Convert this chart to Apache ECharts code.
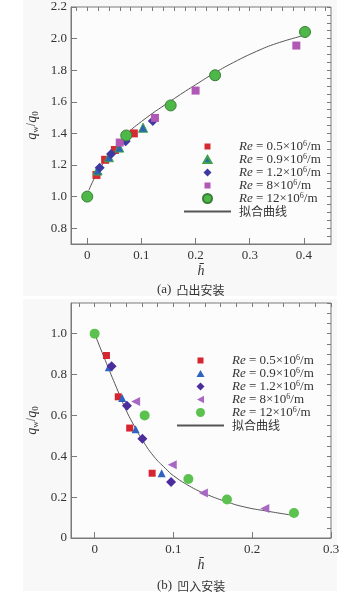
<!DOCTYPE html>
<html>
<head>
<meta charset="utf-8">
<script src="https://cdn.jsdelivr.net/npm/echarts@6/dist/echarts.min.js"></script>
<style>
html, body { margin: 0; padding: 0; background: #fff; }
#chart { width: 353px; height: 599px; }
</style>
</head>
<body>
<div id="chart"></div>
<script>
const serif = '"Liberation Serif", "DejaVu Serif", serif'
const cjk = '"Noto Sans CJK SC", sans-serif'
const axisGray = '#7a7a7a'
const textGray = '#333'

// (a) 凸出安装
const aRe05 = [[0.017, 1.137], [0.033, 1.233], [0.051, 1.295], [0.086, 1.40]]
const aRe09 = [[0.019, 1.165], [0.04, 1.249], [0.059, 1.31], [0.103, 1.436]]
const aRe12 = [[0.023, 1.183], [0.044, 1.27], [0.071, 1.351], [0.121, 1.478]]
const aRe8 = [[0.06, 1.342], [0.125, 1.498], [0.2, 1.671], [0.386, 1.956]]
const aRe120 = [[0, 1.0], [0.072, 1.387], [0.154, 1.577], [0.236, 1.768], [0.402, 2.042]]
const aFit = [[0.003, 1.04], [0.017, 1.14], [0.04, 1.26], [0.07, 1.385], [0.1, 1.475], [0.154, 1.605],
    [0.2, 1.708], [0.236, 1.784], [0.27, 1.849], [0.313, 1.92], [0.35, 1.97], [0.4, 2.02]]
const aXTicks = [0, 0.1, 0.2, 0.3, 0.4]
const aYTicks = [0.8, 1.0, 1.2, 1.4, 1.6, 1.8, 2.0, 2.2]

// (b) 凹入安装
const bRe05 = [[0.015, 0.893], [0.03, 0.691], [0.0445, 0.538], [0.073, 0.317]]
const bRe09 = [[0.018, 0.836], [0.035, 0.685], [0.052, 0.532], [0.085, 0.317]]
const bRe12 = [[0.0216, 0.841], [0.041, 0.647], [0.0606, 0.486], [0.097, 0.274]]
const bRe8 = [[0.052, 0.668], [0.0985, 0.359], [0.138, 0.22], [0.216, 0.144]]
const bRe120 = [[0, 1.0], [0.0635, 0.6], [0.119, 0.289], [0.168, 0.188], [0.253, 0.122]]
const bFit = [[0, 1.0], [0.015, 0.855], [0.03, 0.715], [0.04, 0.625], [0.05, 0.55], [0.06, 0.483],
    [0.075, 0.4], [0.09, 0.34], [0.1, 0.305], [0.12, 0.255], [0.14, 0.217], [0.167, 0.178],
    [0.19, 0.152], [0.218, 0.132], [0.25, 0.112]]
const bXTicks = [0, 0.1, 0.2, 0.3]
const bYTicks = [0, 0.2, 0.4, 0.6, 0.8, 1.0]

const reValues = ['0.5', '0.9', '1.2', '8', '12']
const fitName = '拟合曲线'

const legendText = {}
reValues.forEach((re, i) => {
    const txt = '{sp|}{i|Re} = ' + re + '×10{sup|6}/m'
    legendText['a' + i] = txt
    legendText['b' + i] = txt
})
legendText.aFit = '{sp|}{c|' + fitName + '}'
legendText.bFit = '{sp|}{c|' + fitName + '}'

// legend icons in a 9x9 box, corner points keep the box size
const box = 'path://M0,0L0,0M9,9L9,9'
const icons = {
    square: box + 'M1.5,1.5L7.5,1.5L7.5,7.5L1.5,7.5Z',
    tri: box + 'M4.5,1L8.5,8L0.5,8Z',
    diamond: box + 'M4.5,0.5L8.5,4.5L4.5,8.5L0.5,4.5Z',
    left: box + 'M1,4.5L8,0.8L8,8.2Z',
}

const minorTicks = (lo, hi, step) => {
    const out = []
    for (let v = lo; v <= hi + 1e-9; v += step) out.push(+v.toFixed(3))
    return out
}

const fmt = v => (Math.abs(v) < 1e-9 ? '0' : v.toFixed(1))

const labelStyle = { color: textGray, fontFamily: serif, fontSize: 13 }

const mainX = (gi, min, max, ticks) => ({
    type: 'value', gridIndex: gi, min, max,
    axisLine: { onZero: false, lineStyle: { color: axisGray } },
    axisTick: { inside: true, length: 6, customValues: ticks, lineStyle: { color: axisGray } },
    axisLabel: Object.assign({ customValues: ticks, formatter: fmt, margin: 5 }, labelStyle),
    splitLine: { show: false },
    name: '{i|h\u0304}', nameLocation: 'middle', nameGap: 20,
    nameTextStyle: { rich: { i: { fontFamily: serif, fontStyle: 'italic', fontSize: 14, color: textGray } } },
})

const minorX = (gi, min, max, ticks) => ({
    type: 'value', gridIndex: gi, min, max,
    axisLine: { show: false, onZero: false },
    axisTick: { inside: true, length: 4, customValues: ticks, lineStyle: { color: axisGray } },
    axisLabel: { show: false, customValues: ticks },
    splitLine: { show: false },
})

const mainY = (gi, min, max, ticks) => ({
    type: 'value', gridIndex: gi, min, max,
    axisLine: { onZero: false, lineStyle: { color: axisGray } },
    axisTick: { inside: true, length: 6, customValues: ticks, lineStyle: { color: axisGray } },
    axisLabel: Object.assign({ customValues: ticks, formatter: fmt, margin: 4 }, labelStyle),
    splitLine: { show: false },
    name: '{i|q}{sub|w}/{i|q}{sub|0}', nameLocation: 'middle', nameGap: 28, nameRotate: 90,
    nameTextStyle: {
        rich: {
            i: { fontFamily: serif, fontStyle: 'italic', fontSize: 14, color: textGray, lineHeight: 16 },
            sub: { fontFamily: serif, fontSize: 9, color: textGray, verticalAlign: 'bottom', lineHeight: 16 },
        },
    },
})

const minorY = (gi, min, max, ticks) => ({
    type: 'value', gridIndex: gi, min, max,
    axisLine: { show: false, onZero: false },
    axisTick: { inside: true, length: 4, customValues: ticks, lineStyle: { color: axisGray } },
    axisLabel: { show: false, customValues: ticks },
    splitLine: { show: false },
})

const scatter = (name, data, ai, symbol, size, color, border, rotate) => ({
    name, type: 'scatter', data,
    xAxisIndex: ai, yAxisIndex: ai,
    symbol, symbolSize: size, symbolRotate: rotate || 0,
    itemStyle: { color, borderColor: border || color, borderWidth: border ? 1 : 0, opacity: 1 },
    z: 3,
})

const fitLine = (name, data, ai) => ({
    name, type: 'line', data,
    xAxisIndex: ai, yAxisIndex: ai,
    smooth: true, symbol: 'none',
    lineStyle: { color: '#555', width: 1 },
    itemStyle: { color: '#555' },
    z: 2,
})

const legendBase = {
    orient: 'vertical', padding: 0, itemWidth: 47, itemHeight: 9, itemGap: 0,
    formatter: name => legendText[name],
    selectedMode: false,
    symbolRotate: 0,
    textStyle: {
        color: textGray, fontFamily: serif, fontSize: 13, lineHeight: 13,
        rich: {
            sp: { width: 3 },
            i: { fontFamily: serif, fontStyle: 'italic', fontSize: 13, lineHeight: 13, color: textGray },
            sup: { fontFamily: serif, fontSize: 8, lineHeight: 13, verticalAlign: 'top', color: textGray },
            c: { fontFamily: cjk, fontSize: 12, lineHeight: 13, color: textGray },
        },
    },
}

const captionRich = {
    s: { fontFamily: serif, fontSize: 13, color: textGray, fontWeight: 'normal' },
    c: { fontFamily: cjk, fontSize: 12, color: textGray, fontWeight: 'normal' },
}

const chart = echarts.init(document.getElementById('chart'))

chart.setOption({
    animation: false,
    backgroundColor: '#fff',
    graphic: [
        { type: 'rect', shape: { x: 23, y: 0, width: 314, height: 296 }, style: { fill: '#f8f8f8' }, z: -10 },
        { type: 'rect', shape: { x: 23, y: 299, width: 314, height: 292 }, style: { fill: '#f8f8f8' }, z: -10 },
    ],
    title: [
        { text: '{s|(a)} {c|凸出安装}', left: 157, top: 281, padding: 0, textStyle: { rich: captionRich } },
        { text: '{s|(b)} {c|凹入安装}', left: 157, top: 577, padding: 0, textStyle: { rich: captionRich } },
    ],
    grid: [
        { left: 71, top: 7, width: 260, height: 237, show: true, borderColor: axisGray, borderWidth: 1, backgroundColor: '#fcfcfc' },
        { left: 71, top: 303, width: 260, height: 235, show: true, borderColor: axisGray, borderWidth: 1, backgroundColor: '#fcfcfc' },
    ],
    xAxis: [
        mainX(0, -0.03, 0.45, aXTicks),
        minorX(0, -0.03, 0.45, minorTicks(-0.02, 0.44, 0.02)),
        mainX(1, -0.03, 0.3, bXTicks),
        minorX(1, -0.03, 0.3, minorTicks(-0.02, 0.3, 0.02)),
    ],
    yAxis: [
        mainY(0, 0.7, 2.2, aYTicks),
        minorY(0, 0.7, 2.2, minorTicks(0.7, 2.2, 0.05)),
        mainY(1, 0, 1.15, bYTicks),
        minorY(1, 0, 1.15, minorTicks(0, 1.15, 0.05)),
    ],
    legend: [
        Object.assign({
            left: 183, top: 140,
            data: [
                { name: 'a0', icon: icons.square },
                { name: 'a1', icon: icons.tri },
                { name: 'a2', icon: icons.diamond },
                { name: 'a3', icon: icons.square },
                { name: 'a4', icon: 'circle' },
                { name: 'aFit', itemStyle: { opacity: 0 } },
            ],
        }, legendBase),
        Object.assign({
            left: 176, top: 354,
            data: [
                { name: 'b0', icon: icons.square },
                { name: 'b1', icon: icons.tri },
                { name: 'b2', icon: icons.diamond },
                { name: 'b3', icon: icons.left },
                { name: 'b4', icon: 'circle' },
                { name: 'bFit', itemStyle: { opacity: 0 } },
            ],
        }, legendBase),
    ],
    series: [
        fitLine('aFit', aFit, 0),
        scatter('a0', aRe05, 0, 'rect', 8, '#d42a32'),
        scatter('a1', aRe09, 0, 'triangle', 9, '#2f63b5', '#3ca34a'),
        scatter('a2', aRe12, 0, 'diamond', 10, '#3c3aa0'),
        scatter('a3', aRe8, 0, 'rect', 8, '#b157b5'),
        scatter('a4', aRe120, 0, 'circle', 11, '#4db848', '#3a7d36'),
        fitLine('bFit', bFit, 2),
        scatter('b0', bRe05, 2, 'rect', 7, '#d62530'),
        scatter('b1', bRe09, 2, 'triangle', 8, '#2f63c0'),
        scatter('b2', bRe12, 2, 'diamond', 10, '#4b2e9b'),
        scatter('b3', bRe8, 2, 'triangle', 9, '#a768c4', null, 90),
        scatter('b4', bRe120, 2, 'circle', 10, '#5cc24f'),
    ],
})
</script>
</body>
</html>
